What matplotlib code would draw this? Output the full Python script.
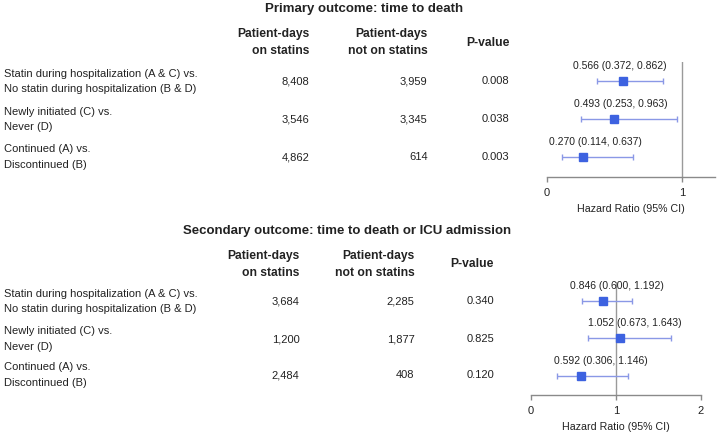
import matplotlib
matplotlib.use("Agg")
import matplotlib.pyplot as plt
import numpy as np

plt.rcParams['font.family'] = ['Liberation Sans', 'DejaVu Sans']

# ---------------- data ----------------
comparisons = [
    ["Statin during hospitalization (A & C) vs.", "No statin during hospitalization (B & D)"],
    ["Newly initiated (C) vs.", "Never (D)"],
    ["Continued (A) vs.", "Discontinued (B)"],
]

primary_title = "Primary outcome: time to death"
primary_days_on = ["8,408", "3,546", "4,862"]
primary_days_off = ["3,959", "3,345", "614"]
primary_pvalue = ["0.008", "0.038", "0.003"]
primary_hr = [0.566, 0.493, 0.270]
primary_lo = [0.372, 0.253, 0.114]
primary_hi = [0.862, 0.963, 0.637]
primary_ticks = [0, 1]

secondary_title = "Secondary outcome: time to death or ICU admission"
secondary_days_on = ["3,684", "1,200", "2,484"]
secondary_days_off = ["2,285", "1,877", "408"]
secondary_pvalue = ["0.340", "0.825", "0.120"]
secondary_hr = [0.846, 1.052, 0.592]
secondary_lo = [0.600, 0.673, 0.306]
secondary_hi = [1.192, 1.643, 1.146]
secondary_ticks = [0, 1, 2]

header_on = ["Patient-days", "on statins"]
header_off = ["Patient-days", "not on statins"]
header_p = "P-value"
xlabel = "Hazard Ratio (95% CI)"

# ---------------- layout ----------------
W, H = 720, 437
fig = plt.figure(figsize=(W / 100, H / 100), dpi=100)


def fx(x):
    return x / W


def fy(y):
    return 1 - y / H


MARK = '#3d62e0'
LINE = '#8a98e6'
GRID = '#9a9a9a'
AXC = '#8a8a8a'
TXT = '#222222'

panels = [
    dict(title=primary_title, title_x=364, title_y=9,
         hdr_y=(33.5, 51.5), p_y=43.3, cols=(309.5, 427.5, 509.5),
         rows=(81.5, 119.2, 157.0),
         on=primary_days_on, off=primary_days_off, p=primary_pvalue,
         hr=primary_hr, lo=primary_lo, hi=primary_hi,
         ax_box=(547, 715, 62, 176.5), xlim=(0, 1.245), ticks=primary_ticks,
         label_dx=[-4, 7, 12], xl_y=208.5),
    dict(title=secondary_title, title_x=347, title_y=231,
         hdr_y=(255.7, 272.5), p_y=264.3, cols=(299.5, 414.5, 494),
         rows=(301.5, 339.0, 375.0),
         on=secondary_days_on, off=secondary_days_off, p=secondary_pvalue,
         hr=secondary_hr, lo=secondary_lo, hi=secondary_hi,
         ax_box=(531, 701, 282, 394.5), xlim=(0, 2), ticks=secondary_ticks,
         label_dx=[14, 14, 20], xl_y=426.7),
]

BODY = 8.0
HDR = 8.7

for P in panels:
    fig.text(fx(P['title_x']), fy(P['title_y']), P['title'], ha='center', va='center',
             fontsize=9.5, fontweight='bold', color=TXT)
    c1, c2, c3 = P['cols']
    for txt, yy in zip(header_on, P['hdr_y']):
        fig.text(fx(c1), fy(yy), txt, ha='right', va='center', fontsize=HDR,
                 fontweight='bold', color=TXT)
    for txt, yy in zip(header_off, P['hdr_y']):
        fig.text(fx(c2), fy(yy), txt, ha='right', va='center', fontsize=HDR,
                 fontweight='bold', color=TXT)
    fig.text(fx(c3), fy(P['p_y']), header_p, ha='right', va='center', fontsize=HDR,
             fontweight='bold', color=TXT)

    for i, yy in enumerate(P['rows']):
        l1, l2 = comparisons[i]
        fig.text(fx(4), fy(yy - 7.6), l1, ha='left', va='center', fontsize=BODY, color=TXT)
        fig.text(fx(4), fy(yy + 7.6), l2, ha='left', va='center', fontsize=BODY, color=TXT)
        fig.text(fx(c1), fy(yy), P['on'][i], ha='right', va='center', fontsize=BODY, color=TXT)
        fig.text(fx(c2), fy(yy), P['off'][i], ha='right', va='center', fontsize=BODY, color=TXT)
        fig.text(fx(c3), fy(yy), P['p'][i], ha='right', va='center', fontsize=BODY, color=TXT)

    x0, x1, y0, y1 = P['ax_box']
    ax = fig.add_axes([fx(x0), fy(y1), (x1 - x0) / W, (y1 - y0) / H])
    ax.set_facecolor('none')
    hr = np.array(P['hr'])
    lo = np.array(P['lo'])
    hi = np.array(P['hi'])
    ypos = np.arange(len(hr))
    ax.axvline(1, color=GRID, lw=1, zorder=1)
    ax.errorbar(hr, ypos, xerr=[hr - lo, hi - hr], fmt='none', ecolor=LINE,
                elinewidth=1, capsize=2.4, capthick=1, zorder=2)
    ax.plot(hr, ypos, 's', color=MARK, markersize=6, zorder=3, linestyle='none')
    for i in range(len(hr)):
        ax.annotate(f"{hr[i]:.3f} ({lo[i]:.3f}, {hi[i]:.3f})", (hr[i], ypos[i]),
                    xytext=(P['label_dx'][i], 15), textcoords='offset pixels',
                    ha='center', va='center', fontsize=7.5, color=TXT)
    ax.set_xlim(*P['xlim'])
    ax.set_ylim(len(hr) - 0.5, -0.5)
    ax.set_yticks([])
    for s in ['top', 'left', 'right']:
        ax.spines[s].set_visible(False)
    ax.spines['bottom'].set_color(AXC)
    ax.spines['bottom'].set_linewidth(1)
    ax.set_xticks(P['ticks'])
    ax.set_xticklabels([str(t) for t in P['ticks']])
    ax.tick_params(axis='x', direction='out', length=3.6, width=1, color=AXC,
                   labelsize=8, labelcolor=TXT, pad=5)
    fig.text(fx((x0 + x1) / 2), fy(P['xl_y']), xlabel, ha='center', va='center',
             fontsize=7.7, color=TXT)

fig.savefig('out.png', dpi=100)
